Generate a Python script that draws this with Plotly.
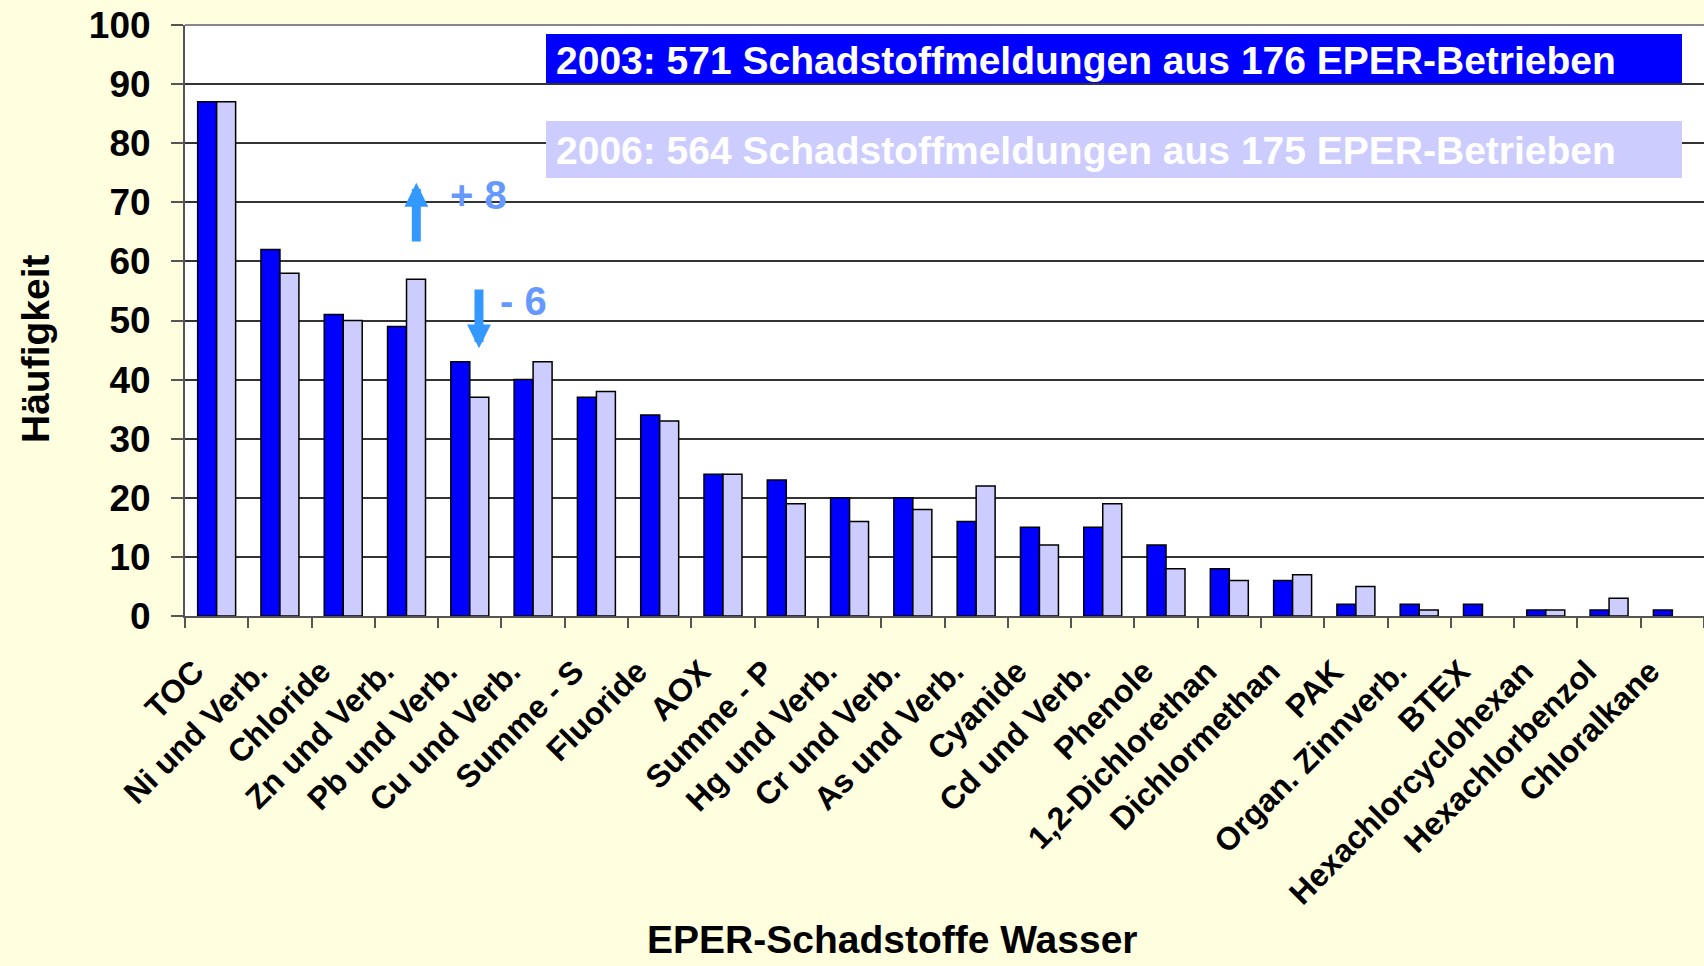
import plotly.graph_objects as go

categories = ["TOC", "Ni und Verb.", "Chloride", "Zn und Verb.", "Pb und Verb.",
              "Cu und Verb.", "Summe - S", "Fluoride", "AOX", "Summe - P",
              "Hg und Verb.", "Cr und Verb.", "As und Verb.", "Cyanide",
              "Cd und Verb.", "Phenole", "1,2-Dichlorethan", "Dichlormethan",
              "PAK", "Organ. Zinnverb.", "BTEX", "Hexachlorcyclohexan",
              "Hexachlorbenzol", "Chloralkane"]
values_2003 = [87, 62, 51, 49, 43, 40, 37, 34, 24, 23, 20, 20, 16, 15, 15, 12,
               8, 6, 2, 2, 2, 1, 1, 1]
values_2006 = [87, 58, 50, 57, 37, 43, 38, 33, 24, 19, 16, 18, 22, 12, 19, 8,
               6, 7, 5, 1, 0, 1, 3, 0]
label_2003 = "2003: 571 Schadstoffmeldungen aus 176 EPER-Betrieben"
label_2006 = "2006: 564 Schadstoffmeldungen aus 175 EPER-Betrieben"
y_ticks = list(range(0, 101, 10))

FONT = "Liberation Sans, Arial, sans-serif"
W, H = 1704, 966
L, R, T, B = 185, 0, 25, 350
PW, PH = W - L - R, H - T - B

def px_x(px):
    return (px - L) / PW

def px_y(py):
    return (H - B - py) / PH

# zero counts are drawn without an outline so no flat bar appears
line_w_2003 = [1.5 if v > 0 else 0 for v in values_2003]
line_w_2006 = [1.5 if v > 0 else 0 for v in values_2006]

fig = go.Figure()
fig.add_trace(go.Bar(x=categories, y=values_2003, name="2003",
                     marker=dict(color="#0000FF", line=dict(color="#000000", width=line_w_2003))))
fig.add_trace(go.Bar(x=categories, y=values_2006, name="2006",
                     marker=dict(color="#CCCCFF", line=dict(color="#000000", width=line_w_2006))))

# legend boxes (background rectangles)
fig.add_shape(type="rect", xref="paper", yref="paper",
              x0=px_x(546), x1=px_x(1682), y0=px_y(83), y1=px_y(34),
              fillcolor="#0000FF", line=dict(width=0), layer="above")
fig.add_shape(type="rect", xref="paper", yref="paper",
              x0=px_x(546), x1=px_x(1682), y0=px_y(178), y1=px_y(121),
              fillcolor="#CCCCFF", line=dict(width=0), layer="above")
fig.add_shape(type="line", xref="paper", yref="paper", x0=0, x1=1, y0=1, y1=1,
              line=dict(color="#888888", width=2))

annotations = []
annotations.append(dict(text=label_2003, xref="paper", yref="paper",
                        x=px_x(554), y=px_y(61), xanchor="left", yanchor="middle",
                        showarrow=False,
                        font=dict(family=FONT, size=39, color="white", weight="bold")))
annotations.append(dict(text=label_2006, xref="paper", yref="paper",
                        x=px_x(554), y=px_y(150), xanchor="left", yanchor="middle",
                        showarrow=False,
                        font=dict(family=FONT, size=39, color="white", weight="bold")))
# arrows
annotations.append(dict(x=3.155, y=73.3, ax=3.155, ay=63.1, xref="x", yref="y",
                        axref="x", ayref="y", text="", showarrow=True,
                        arrowhead=2, arrowsize=0.53, arrowwidth=9, arrowcolor="#3399FF",
                        standoff=0))
annotations.append(dict(x=4.145, y=45.3, ax=4.145, ay=55.5, xref="x", yref="y",
                        axref="x", ayref="y", text="", showarrow=True,
                        arrowhead=2, arrowsize=0.53, arrowwidth=9, arrowcolor="#3399FF",
                        standoff=0))
annotations.append(dict(x=4.14, y=71.2, xref="x", yref="y", text="+ 8", showarrow=False,
                        xanchor="center", yanchor="middle",
                        font=dict(family=FONT, size=40, color="#6699FF", weight="bold")))
annotations.append(dict(x=4.856, y=53.3, xref="x", yref="y", text="- 6", showarrow=False,
                        xanchor="center", yanchor="middle",
                        font=dict(family=FONT, size=40, color="#6699FF", weight="bold")))
# axis titles
annotations.append(dict(text="Häufigkeit", xref="paper", yref="paper",
                        x=px_x(35), y=px_y(349), xanchor="center", yanchor="middle",
                        textangle=-90, showarrow=False,
                        font=dict(family=FONT, size=39, color="black", weight="bold")))
annotations.append(dict(text="EPER-Schadstoffe Wasser", xref="paper", yref="paper",
                        x=px_x(892), y=px_y(940), xanchor="center", yanchor="middle",
                        showarrow=False,
                        font=dict(family=FONT, size=39, color="black", weight="bold")))

fig.update_layout(
    width=W, height=H,
    margin=dict(l=L, r=R, t=T, b=B, autoexpand=False),
    paper_bgcolor="#FFFFE0", plot_bgcolor="#FFFFFF",
    barmode="group", bargap=0.4, bargroupgap=0,
    showlegend=False,
    annotations=annotations,
    font=dict(family=FONT, color="black"),
)
fig.update_xaxes(
    type="category", tickangle=-45, ticks="outside", tickson="boundaries",
    ticklen=10, tickcolor="#555555", tickwidth=1.5,
    showline=True, linecolor="#555555", linewidth=2,
    tickfont=dict(family=FONT, size=32, color="black", weight="bold"),
    ticklabelstandoff=22, ticklabelshift=-22,
    showgrid=False, automargin=False,
)
fig.update_yaxes(
    range=[0, 100], tickvals=y_ticks, ticks="outside", ticklen=12,
    tickcolor="#555555", tickwidth=1.5,
    showline=True, linecolor="#555555", linewidth=2,
    showgrid=True, gridcolor="#333333", gridwidth=1.5,
    tickfont=dict(family=FONT, size=37, color="black", weight="bold"),
    ticklabelstandoff=13, automargin=False, zeroline=False,
)

fig.write_html("out.html", config={"displayModeBar": False},
               post_script="document.body.style.margin='0';document.body.style.padding='0';document.body.style.overflow='hidden';")
